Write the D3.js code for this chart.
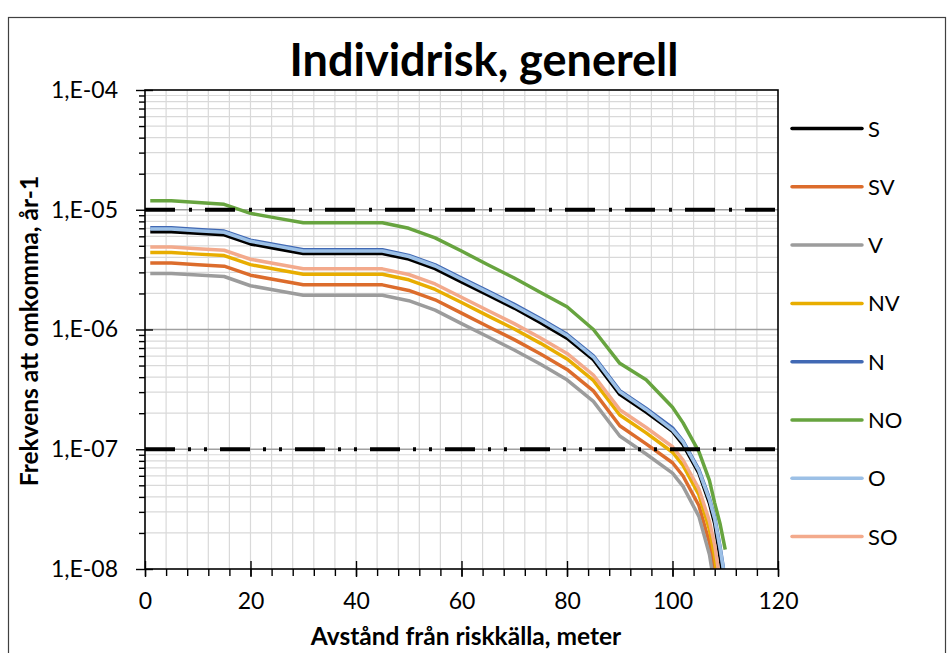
<!DOCTYPE html>
<html>
<head>
<meta charset="utf-8">
<script src="https://cdn.jsdelivr.net/npm/d3@7"></script>
<style>
  body { margin: 0; background: #fff; }
  text { font-family: Lato, 'Noto Sans', sans-serif; fill: #000; }
</style>
</head>
<body>
<div id="chart"></div>
<script>
// INDIVIDRISK, GENERELL

// DATA
let distances = [1, 5, 10, 15, 20, 25, 30, 45, 50, 55, 60, 65, 70, 75, 80, 85, 90, 95, 100, 102, 105, 107, 108, 109, 110];

let valS = [6.56e-6, 6.56e-6, 6.35e-6, 6.17e-6, 5.18e-6, 4.73e-6, 4.31e-6, 4.31e-6, 3.87e-6, 3.22e-6, 2.5e-6, 1.94e-6, 1.51e-6, 1.14e-6, 8.47e-7, 5.6e-7, 2.87e-7, 2.04e-7, 1.41e-7, 1.09e-7, 6.31e-8, 3.55e-8, 2.4e-8, 1.26e-8, 6.3e-9];
let valSV = [3.59e-6, 3.59e-6, 3.48e-6, 3.38e-6, 2.84e-6, 2.59e-6, 2.36e-6, 2.36e-6, 2.12e-6, 1.77e-6, 1.37e-6, 1.06e-6, 8.23e-7, 6.25e-7, 4.64e-7, 3.07e-7, 1.57e-7, 1.11e-7, 7.71e-8, 5.98e-8, 3.39e-8, 1.66e-8, 9.5e-9, 4.5e-9, 2.0e-9];
let valV = [2.94e-6, 2.94e-6, 2.85e-6, 2.77e-6, 2.32e-6, 2.12e-6, 1.93e-6, 1.93e-6, 1.74e-6, 1.45e-6, 1.12e-6, 8.7e-7, 6.74e-7, 5.12e-7, 3.8e-7, 2.51e-7, 1.29e-7, 9.13e-8, 6.31e-8, 4.9e-8, 2.75e-8, 1.32e-8, 7.1e-9, 3.2e-9, 1.3e-9];
let valNV = [4.4e-6, 4.4e-6, 4.26e-6, 4.14e-6, 3.48e-6, 3.17e-6, 2.89e-6, 2.89e-6, 2.6e-6, 2.16e-6, 1.68e-6, 1.3e-6, 1.01e-6, 7.66e-7, 5.68e-7, 3.76e-7, 1.93e-7, 1.37e-7, 9.44e-8, 7.33e-8, 4.17e-8, 2.14e-8, 1.26e-8, 5.6e-9, 2.5e-9];
let valN = [7.06e-6, 7.06e-6, 6.83e-6, 6.64e-6, 5.57e-6, 5.08e-6, 4.63e-6, 4.63e-6, 4.16e-6, 3.47e-6, 2.69e-6, 2.09e-6, 1.62e-6, 1.23e-6, 9.12e-7, 6.03e-7, 3.09e-7, 2.19e-7, 1.51e-7, 1.17e-7, 6.76e-8, 3.89e-8, 2.69e-8, 1.55e-8, 8.1e-9];
let valNO = [1.19e-5, 1.19e-5, 1.15e-5, 1.11e-5, 9.33e-6, 8.51e-6, 7.8e-6, 7.8e-6, 7.0e-6, 5.82e-6, 4.52e-6, 3.47e-6, 2.69e-6, 2.04e-6, 1.55e-6, 1.0e-6, 5.22e-7, 3.8e-7, 2.24e-7, 1.66e-7, 9.55e-8, 5.5e-8, 3.55e-8, 2.4e-8, 1.45e-8];
let valO = [6.9e-6, 6.9e-6, 6.68e-6, 6.49e-6, 5.45e-6, 4.97e-6, 4.53e-6, 4.53e-6, 4.07e-6, 3.39e-6, 2.63e-6, 2.04e-6, 1.58e-6, 1.2e-6, 8.91e-7, 5.89e-7, 3.02e-7, 2.14e-7, 1.45e-7, 1.15e-7, 6.61e-8, 3.8e-8, 2.63e-8, 1.51e-8, 7.9e-9];
let valSO = [4.89e-6, 4.89e-6, 4.73e-6, 4.59e-6, 3.86e-6, 3.52e-6, 3.21e-6, 3.21e-6, 2.88e-6, 2.4e-6, 1.86e-6, 1.44e-6, 1.12e-6, 8.5e-7, 6.31e-7, 4.17e-7, 2.14e-7, 1.52e-7, 1.05e-7, 8.13e-8, 4.68e-8, 2.51e-8, 1.58e-8, 7.9e-9, 3.5e-9];

let seriesNames = ['S', 'SV', 'V', 'NV', 'N', 'NO', 'O', 'SO'];
let seriesValues = [valS, valSV, valV, valNV, valN, valNO, valO, valSO];

// criteria lines (upper / lower)
let criteriaLevels = [1e-5, 1e-7];

let xTicks = [0, 20, 40, 60, 80, 100, 120];
let yTicks = [1e-8, 1e-7, 1e-6, 1e-5, 1e-4];
let yTickLabels = ['1,E-08', '1,E-07', '1,E-06', '1,E-05', '1,E-04'];

// CONST
let width = 951;
let height = 653;
let plot = { left: 145, right: 778, top: 90, bottom: 569 };
let colors = ['#000000', '#dc6c2c', '#9c9c9c', '#e8ad00', '#4169b4', '#67a43f', '#9cc0e6', '#f3aa8c'];
let dashes = ['30,14,3,13', '30,13,3,13,3,13'];

let svg = d3.select('#chart')
  .append('svg')
  .attr('width', width)
  .attr('height', height);

// chart frame
svg.append('rect')
  .attr('x', 8.5).attr('y', 17.5)
  .attr('width', 937).attr('height', 700)
  .attr('fill', 'none')
  .attr('stroke', '#404040')
  .attr('stroke-width', 1.2);

let xScale = d3.scaleLinear().domain([0, 120]).range([plot.left, plot.right]);
let yScale = d3.scaleLog().domain([1e-8, 1e-4]).range([plot.bottom, plot.top]);

// minor values
let xMinor = d3.range(0, 121, 4);
let yMinor = [];
yTicks.slice(0, -1).forEach(t => {
  for (let k = 2; k <= 9; k++) yMinor.push(t * k);
});

// GRID
let grid = svg.append('g');
grid.selectAll('.vgrid')
  .data(xMinor.filter(d => d > 0 && d < 120))
  .join('line')
  .attr('x1', d => xScale(d)).attr('x2', d => xScale(d))
  .attr('y1', plot.top).attr('y2', plot.bottom)
  .attr('stroke', '#d9d9d9').attr('stroke-width', 1.2);

grid.selectAll('.hgrid')
  .data(yMinor)
  .join('line')
  .attr('x1', plot.left).attr('x2', plot.right)
  .attr('y1', d => yScale(d)).attr('y2', d => yScale(d))
  .attr('stroke', '#d9d9d9').attr('stroke-width', 1.2);

grid.selectAll('.hmajor')
  .data(yTicks.slice(1, -1))
  .join('line')
  .attr('x1', plot.left).attr('x2', plot.right)
  .attr('y1', d => yScale(d)).attr('y2', d => yScale(d))
  .attr('stroke', '#a0a0a0').attr('stroke-width', 1.6);

// SERIES
svg.append('clipPath').attr('id', 'clip')
  .append('rect')
  .attr('x', plot.left).attr('y', plot.top)
  .attr('width', plot.right - plot.left).attr('height', plot.bottom - plot.top);

let line = d3.line()
  .x(d => xScale(d[0]))
  .y(d => yScale(d[1]));

svg.append('g')
  .attr('clip-path', 'url(#clip)')
  .selectAll('path')
  .data(seriesValues)
  .join('path')
  .attr('d', vals => line(distances.map((x, i) => [x, vals[i]])))
  .attr('fill', 'none')
  .attr('stroke', (d, i) => colors[i])
  .attr('stroke-width', 3.5)
  .attr('stroke-linejoin', 'round');

// criteria lines
svg.selectAll('.crit')
  .data(criteriaLevels)
  .join('line')
  .attr('x1', plot.left).attr('x2', plot.right)
  .attr('y1', d => yScale(d)).attr('y2', d => yScale(d))
  .attr('stroke', '#000')
  .attr('stroke-width', 4)
  .attr('stroke-dasharray', (d, i) => dashes[i]);

// AXES
function styleAxis(g) {
  g.selectAll('.domain').remove();
  g.selectAll('line').attr('stroke', '#000').attr('stroke-width', 1.4);
  g.selectAll('text')
    .attr('font-family', 'Lato, sans-serif')
    .attr('font-size', 23)
    .attr('fill', '#000');
}

// x minor + major ticks
svg.append('g')
  .attr('transform', `translate(0,${plot.bottom})`)
  .call(d3.axisBottom(xScale).tickValues(xMinor).tickSize(7).tickFormat(''))
  .call(styleAxis);
svg.append('g')
  .attr('transform', `translate(0,${plot.bottom})`)
  .call(d3.axisTop(xScale).tickValues(xTicks).tickSize(8).tickFormat(''))
  .call(styleAxis);
svg.append('g')
  .attr('transform', `translate(0,${plot.bottom})`)
  .call(d3.axisBottom(xScale).tickValues(xTicks).tickSize(8).tickPadding(16))
  .call(styleAxis);

// y minor + major ticks
svg.append('g')
  .attr('transform', `translate(${plot.left},0)`)
  .call(d3.axisLeft(yScale).tickValues(yMinor).tickSize(6).tickFormat(''))
  .call(styleAxis);
svg.append('g')
  .attr('transform', `translate(${plot.left},0)`)
  .call(d3.axisRight(yScale).tickValues(yTicks).tickSize(8).tickFormat(''))
  .call(styleAxis);
svg.append('g')
  .attr('transform', `translate(${plot.left},0)`)
  .call(d3.axisLeft(yScale).tickValues(yTicks).tickSize(9).tickPadding(18)
    .tickFormat((d, i) => yTickLabels[i]))
  .call(styleAxis);

// plot border
svg.append('rect')
  .attr('x', plot.left).attr('y', plot.top)
  .attr('width', plot.right - plot.left).attr('height', plot.bottom - plot.top)
  .attr('fill', 'none')
  .attr('stroke', '#000')
  .attr('stroke-width', 1.6);

// TITLES
svg.append('text')
  .attr('x', 484).attr('y', 76)
  .attr('text-anchor', 'middle')
  .attr('font-size', 45)
  .attr('font-weight', 'bold')
  .text('Individrisk, generell');

svg.append('text')
  .attr('x', 466).attr('y', 645)
  .attr('text-anchor', 'middle')
  .attr('font-size', 24.5)
  .attr('font-weight', 'bold')
  .text('Avstånd från riskkälla, meter');

svg.append('text')
  .attr('transform', 'translate(38,331) rotate(-90)')
  .attr('text-anchor', 'middle')
  .attr('font-size', 24.5)
  .attr('font-weight', 'bold')
  .text('Frekvens att omkomma, år-1');

// LEGEND
let legend = svg.append('g')
  .selectAll('g')
  .data(seriesNames)
  .join('g')
  .attr('transform', (d, i) => `translate(792,${128.5 + i * 58.3})`);

legend.append('line')
  .attr('x1', 0).attr('x2', 70)
  .attr('stroke', (d, i) => colors[i])
  .attr('stroke-width', 3.5)
  .attr('stroke-linecap', 'round');

legend.append('text')
  .attr('x', 76).attr('y', 8)
  .attr('font-size', 22)
  .text(d => d);
</script>
</body>
</html>
